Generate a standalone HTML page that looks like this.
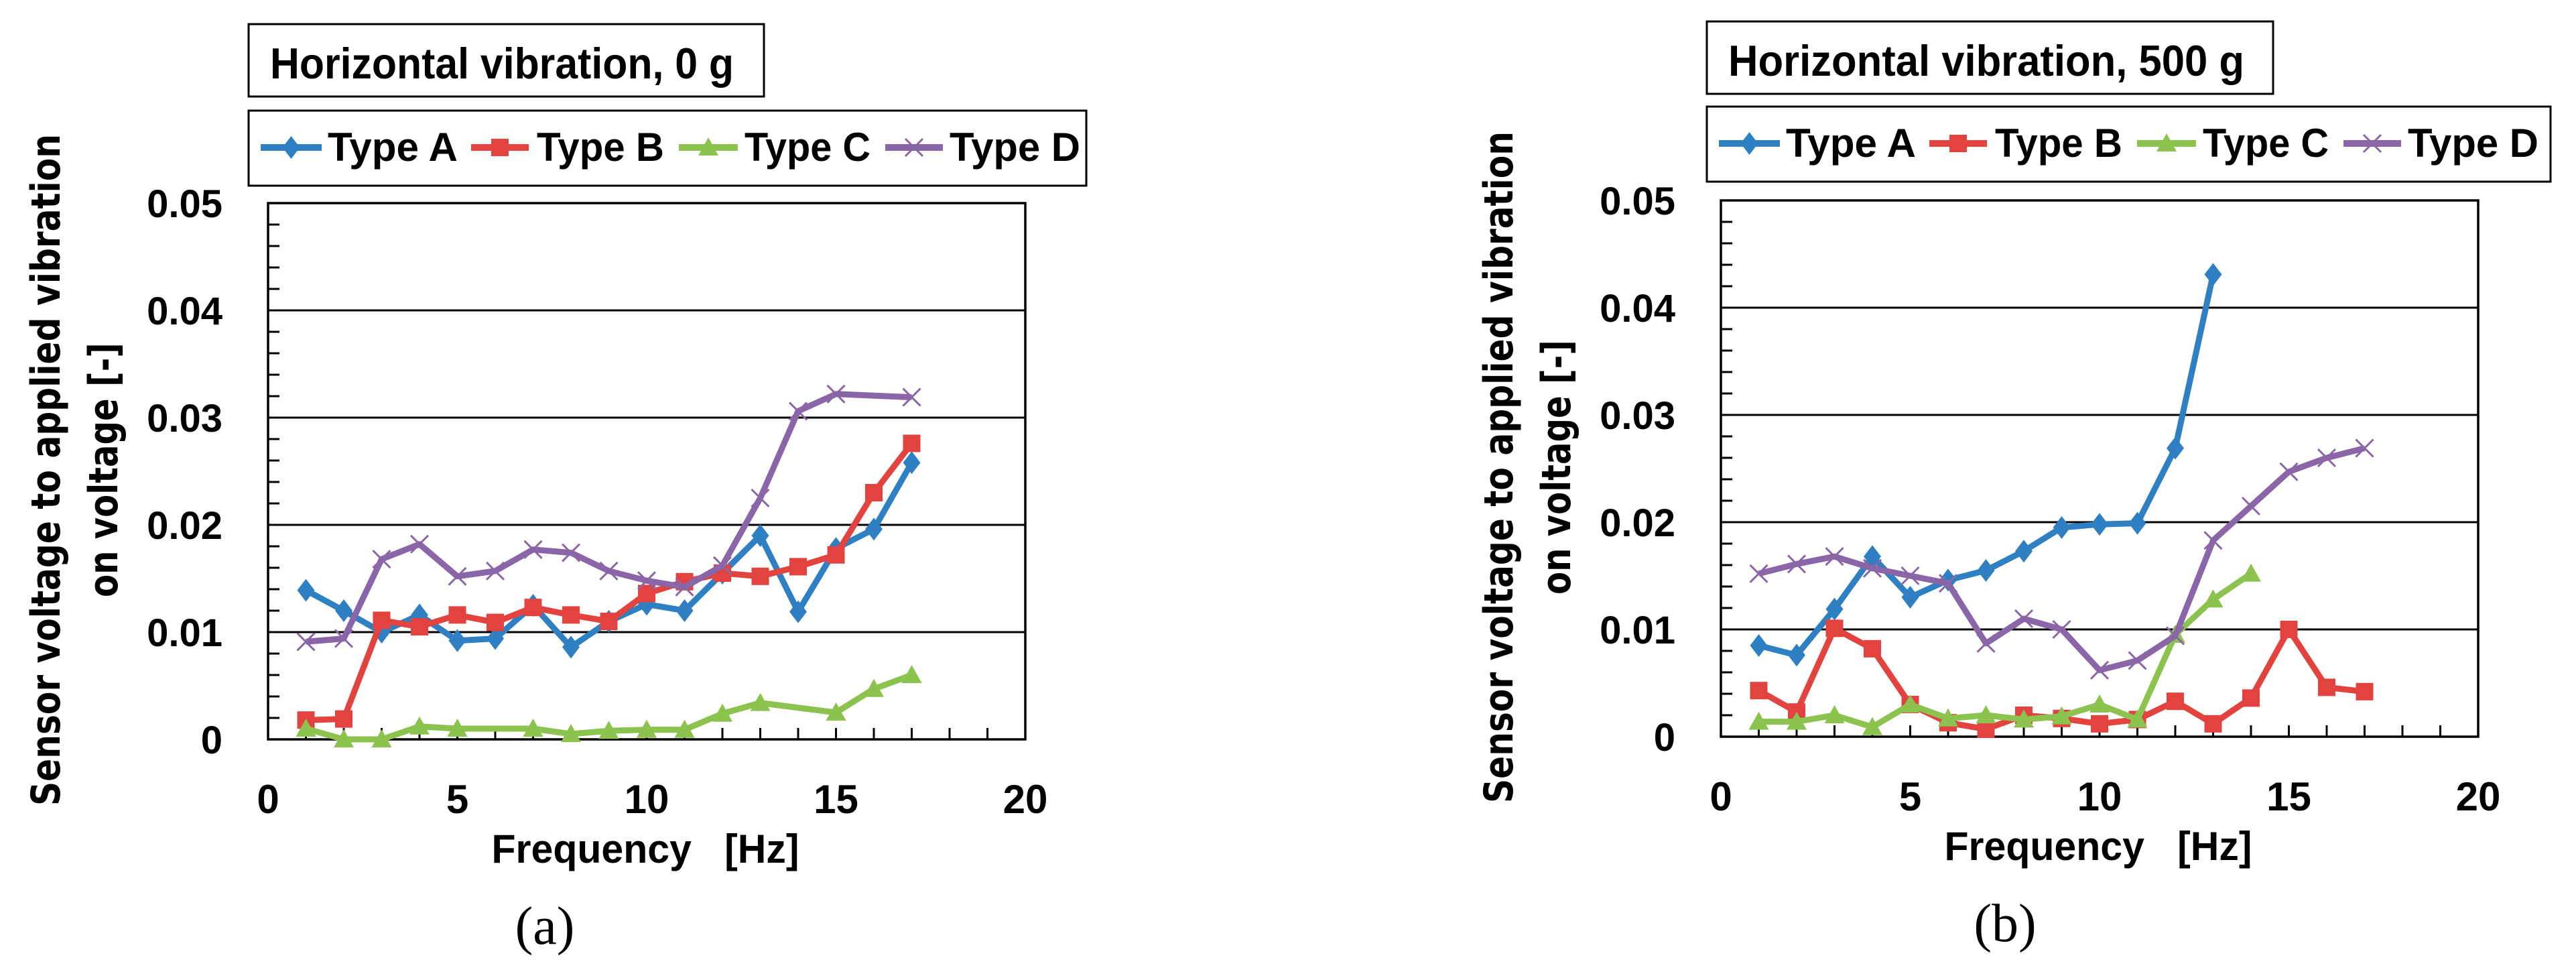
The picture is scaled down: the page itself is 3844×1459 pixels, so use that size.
<!DOCTYPE html>
<html><head><meta charset="utf-8"><style>html,body{margin:0;padding:0;background:#fff}svg{display:block}</style></head>
<body>
<svg id="chart" xmlns="http://www.w3.org/2000/svg" width="3844" height="1459" viewBox="0 0 3844 1459"></svg>
<script>
const freqs = [1,2,3,4,5,6,7,8,9,10,11,12,13,14,15,16,17];
const xTicks = [0,5,10,15,20];
const yTicks = [0,0.01,0.02,0.03,0.04,0.05];
const yTickLabels = ['0','0.01','0.02','0.03','0.04','0.05'];
const seriesNames = ['Type A','Type B','Type C','Type D'];
// panel (a) horizontal vibration 0 g
const a_typeA = [0.0139,0.0120,0.0100,0.0116,0.0092,0.0094,0.0125,0.0086,0.0110,0.0126,0.0120,0.0155,0.0190,0.0119,0.0178,0.0196,0.0258];
const a_typeB = [0.0018,0.0019,0.0111,0.0105,0.0116,0.0109,0.0123,0.0116,0.0110,0.0136,0.0147,0.0155,0.0152,0.0161,0.0172,0.0230,0.0276];
const a_typeC = [0.0010,0.0000,0.0000,0.0012,0.0010,null,0.0010,0.0005,0.0008,0.0009,0.0009,0.0024,0.0034,null,0.0025,0.0047,0.0060];
const a_typeD = [0.0091,0.0094,0.0168,0.0182,0.0152,0.0157,0.0177,0.0174,0.0157,0.0148,0.0142,0.0162,0.0225,0.0306,0.0322,null,0.0319];
// panel (b) horizontal vibration 500 g
const b_typeA = [0.0085,0.0076,0.0119,0.0168,0.0130,0.0146,0.0155,0.0173,0.0195,0.0198,0.0199,0.0269,0.0431];
const b_typeB = [0.0043,0.0023,0.0101,0.0082,0.0030,0.0013,0.0007,0.0020,0.0017,0.0012,0.0016,0.0033,0.0012,0.0036,0.0100,0.0046,0.0042];
const b_typeC = [0.0014,0.0014,0.0020,0.0009,0.0030,0.0017,0.0020,0.0016,0.0019,0.0030,0.0016,0.0095,0.0128,0.0152];
const b_typeD = [0.0152,0.0161,0.0168,0.0157,0.0150,0.0143,0.0087,0.0110,0.0100,0.0062,0.0071,0.0094,0.0183,0.0215,0.0247,0.0260,0.0269];

const colors = ['#2e80c3','#e2433f','#8cc24e','#8a66a8'];
const NS = 'http://www.w3.org/2000/svg';
const svg = document.getElementById('chart');
function mk(tag, attrs, parent){
  const e = document.createElementNS(NS, tag);
  for (const k in attrs) e.setAttribute(k, attrs[k]);
  (parent||svg).appendChild(e);
  return e;
}
function txt(parent, s, x, y, size, opts){
  const t = mk('text', Object.assign({x:x, y:y, 'font-size':size, 'font-family':'"Liberation Sans", sans-serif', 'font-weight':'bold', fill:'#000'}, opts||{}), parent);
  t.textContent = s;
  return t;
}
function marker(g, kind, x, y, col){
  let m;
  if (kind===0) m = mk('polygon',{points:`${x},${y-17} ${x+13},${y} ${x},${y+17} ${x-13},${y}`,fill:col},g);
  else if (kind===1) m = mk('rect',{x:x-13,y:y-13,width:26,height:26,fill:col},g);
  else if (kind===2) m = mk('polygon',{points:`${x},${y-15} ${x+15},${y+12} ${x-15},${y+12}`,fill:col},g);
  else { m = mk('path',{d:`M${x-13},${y-13}L${x+13},${y+13}M${x-13},${y+13}L${x+13},${y-13}`,stroke:col,'stroke-width':3,fill:'none'},g); }
  return m;
}

function panel(P){
  const g = mk('g',{});
  
  
  const L=P.left, T=P.top, W=1130, H=800;
  const xs = v => L + v/20*W;
  const ys = v => T + H - v/0.05*H;
  yTicks.forEach((v,i)=>{
    if (i>0 && i<5){ const gl = mk('line',{x1:L,x2:L+W,y1:ys(v),y2:ys(v),stroke:'#000','stroke-width':3},g);
        }
  });
  for (let v=0; v<0.05-1e-9; v+=0.002){ mk('line',{x1:L,x2:L+17,y1:ys(v),y2:ys(v),stroke:'#000','stroke-width':3},g); }
  for (let f=1; f<20; f++){ mk('line',{x1:xs(f),x2:xs(f),y1:T+H,y2:T+H-17,stroke:'#000','stroke-width':3},g); }
  const frame = mk('rect',{x:L,y:T,width:W,height:H,fill:'none',stroke:'#000','stroke-width':3.5},g);
   
  yTicks.forEach((v,i)=>{ const t = txt(g, yTickLabels[i], L-68, ys(v)+21, 58, {'text-anchor':'end'});
      });
  xTicks.forEach(v=>{ const t = txt(g, String(v), xs(v), T+H+110, 60, {'text-anchor':'middle'});
      });
  const xt = txt(g, 'Frequency\u00a0\u00a0\u00a0[Hz]', L+563, T+H+184, 60, {'text-anchor':'middle', textLength:459, lengthAdjust:'spacingAndGlyphs'});
   
  const cy = T+H/2-2;
  const y1 = txt(g, 'Sensor voltage to applied vibration', 0, 0, 60, {'text-anchor':'middle','font-family':'"DejaVu Sans", sans-serif', textLength:1002, lengthAdjust:'spacingAndGlyphs', transform:`translate(${L-333+22},${cy}) rotate(-90)`});
   
  const y2 = txt(g, 'on voltage [-]', 0, 0, 60, {'text-anchor':'middle','font-family':'"DejaVu Sans", sans-serif', textLength:380, lengthAdjust:'spacingAndGlyphs', transform:`translate(${L-247+22},${cy}) rotate(-90)`});
   
  const pl = txt(g, P.label, P.labelX, T+H+305, 80, {'text-anchor':'middle','font-family':'"Liberation Serif", serif','font-weight':'normal'});
   
  const tb = mk('rect',{x:P.boxL,y:P.titleT,width:P.titleW,height:108,fill:'#fff',stroke:'#000','stroke-width':3},g);
   
  const tt = txt(g, P.title, P.boxL+32, P.titleT+81, 65, {textLength:P.titleTextW, lengthAdjust:'spacingAndGlyphs'});
   
  const lb = mk('rect',{x:P.boxL,y:P.legT,width:P.legW,height:112,fill:'#fff',stroke:'#000','stroke-width':3},g);
   
  const segs=[[18,109,118,194],[332,418,430,190],[642,730,740,188],[950,1036,1046,195]];
  const ly = P.legT+55;
  segs.forEach((s,i)=>{
    const eg = mk('g',{},g);
    
    
    mk('line',{x1:P.boxL+s[0],x2:P.boxL+s[1],y1:ly,y2:ly,stroke:colors[i],'stroke-width':10},eg);
    marker(eg,i,P.boxL+(s[0]+s[1])/2,ly,colors[i]);
    txt(eg, seriesNames[i], P.boxL+s[2], P.legT+75, 60, {textLength:s[3], lengthAdjust:'spacingAndGlyphs'});
  });
  P.series.forEach((data,i)=>{
    const sg = mk('g',{},g);
    
    
    const pts=[];
    data.forEach((v,j)=>{ if (v!==null && v!==undefined) pts.push([xs(freqs[j]), ys(v)]); });
    const ln = mk('polyline',{points:pts.map(p=>p.join(',')).join(' '),fill:'none',stroke:colors[i],'stroke-width':9,'stroke-linejoin':'round'},sg);
     
    pts.forEach(p=>{ const m = marker(sg,i,p[0],p[1],colors[i]);
        });
  });
}

panel({id:'panel-a', left:400, top:303, boxL:371, titleT:36, titleW:769, titleTextW:692, legT:165, legW:1250,
  title:'Horizontal vibration, 0 g', label:'(a)', labelX:813, series:[a_typeA,a_typeB,a_typeC,a_typeD]});
panel({id:'panel-b', left:2568, top:299, boxL:2547, titleT:32, titleW:845, titleTextW:770, legT:159, legW:1259,
  title:'Horizontal vibration, 500 g', label:'(b)', labelX:2992, series:[b_typeA,b_typeB,b_typeC,b_typeD]});
</script>
</body></html>
